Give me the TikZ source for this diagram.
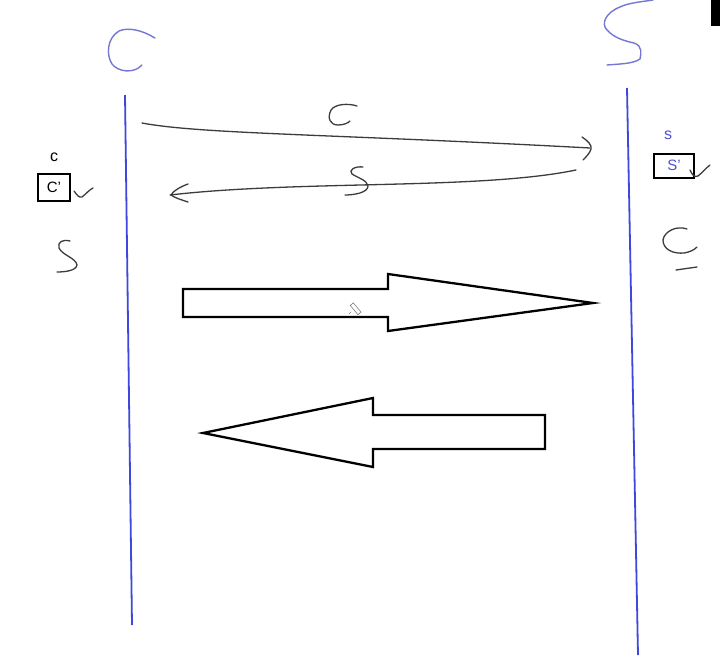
\documentclass[tikz,border=0pt]{standalone}
\usepackage{fontspec}
\setmainfont{Liberation Sans}
\begin{document}
\begin{tikzpicture}[x=1pt,y=-1pt,
  lifeline/.style={draw=lineblue,line width=1.8pt},
  penblue/.style={draw=penblue,line width=1.4pt,line cap=round,line join=round},
  pen/.style={draw=pengray,line width=1.3pt,line cap=round,line join=round},
  bigarrow/.style={draw=black,line width=2.3pt,line join=miter,fill=white},
  tbox/.style={draw=black,line width=2pt,minimum width=32pt,minimum height=27pt,inner sep=0pt,font=\fontsize{15}{15}\selectfont},
  smalltext/.style={font=\fontsize{16}{16}\selectfont,inner sep=0pt}]
\definecolor{lineblue}{RGB}{62,72,222}
\definecolor{penblue}{RGB}{118,118,212}
\definecolor{textblue}{RGB}{82,82,205}
\definecolor{pengray}{RGB}{60,60,60}
\useasboundingbox (0,0) rectangle (720,669);
\fill[white] (0,0) rectangle (720,669);
% corner mark
\fill[black] (711,0) rectangle (720,26);
% lifelines
\coordinate (ltop) at (125,95);
\coordinate (lbot) at (132,625);
\coordinate (rtop) at (627,88);
\coordinate (rbot) at (638,655);
\draw[lifeline] (ltop) -- (lbot);
\draw[lifeline] (rtop) -- (rbot);
% hand-drawn C and S headings
\draw[penblue] (155,38) .. controls (142,30) and (128,27) .. (119,31)
  .. controls (107,38) and (106,55) .. (112,64)
  .. controls (118,72) and (134,74) .. (142,65);
\draw[penblue] (653,0) .. controls (640,2) and (628,3) .. (620,7)
  .. controls (605,13) and (601,24) .. (607,30)
  .. controls (614,38) and (625,41) .. (634,43)
  .. controls (643,46) and (641,54) .. (640,59)
  .. controls (633,64) and (618,64) .. (607,65);
% left annotations
\node[smalltext] (lc) at (54,157) {c};
\node[tbox] (lbox) at (54,187.5) {C'};
\draw[pen] (74,191) .. controls (77,195) and (79,198) .. (82,197) .. controls (86,194) and (89,190) .. (93,188);
\draw[pen] (70,241) .. controls (63,239) and (57,242) .. (59,248)
  .. controls (62,255) and (76,258) .. (77,265)
  .. controls (76,271) and (64,272) .. (57,272);
% right annotations
\node[smalltext,text=textblue] (rs) at (668,135) {s};
\node[tbox,text=textblue,minimum width=40pt,minimum height=24pt] (rbox) at (674,165.5) {S'};
\draw[pen] (690,170) .. controls (692,174) and (694,178) .. (698,176) .. controls (702,173) and (706,168) .. (710,165);
\draw[pen] (687,229) .. controls (676,225) and (664,232) .. (663,240)
  .. controls (663,250) and (674,254) .. (684,253)
  .. controls (690,252) and (694,250) .. (697,247);
\draw[pen] (676,270) -- (697,267);
% message arrows
\coordinate (m1s) at (142,123);
\coordinate (m1e) at (590,148);
\coordinate (m2s) at (576,170);
\coordinate (m2e) at (170,195);
\draw[pen] (m1s) .. controls (200,134) and (330,134) .. (m1e);
\draw[pen] (582,137) .. controls (588,141) and (592,145) .. (591,149) .. controls (590,153) and (586,157) .. (583,160);
\draw[pen] (m2s) .. controls (480,190) and (300,180) .. (m2e);
\draw[pen] (188,184) .. controls (180,187) and (173,191) .. (171,195) .. controls (175,198) and (182,200) .. (188,202);
% labels C and S on arrows
\draw[pen] (357,106) .. controls (348,103) and (335,104) .. (331,110)
  .. controls (327,118) and (330,125) .. (338,125)
  .. controls (344,125) and (348,123) .. (350,121);
\draw[pen] (363,167) .. controls (355,166) and (348,170) .. (352,174)
  .. controls (358,178) and (367,180) .. (368,186)
  .. controls (368,193) and (353,195) .. (345,195);
% big block arrows
\draw[bigarrow] (183,289) -- (388,289) -- (388,274) -- (593,303) -- (388,331) -- (388,317) -- (183,317) -- cycle;
\draw[bigarrow] (545,415) -- (373,415) -- (373,398) -- (203,433) -- (373,467) -- (373,449) -- (545,449) -- cycle;
% pencil cursor
\draw[gray,line width=0.6pt,rotate around={-50:(355,308)}] (350,306) rectangle (362,310);
\draw[gray,line width=0.6pt] (351,312) -- (349,314);
\end{tikzpicture}
\end{document}
